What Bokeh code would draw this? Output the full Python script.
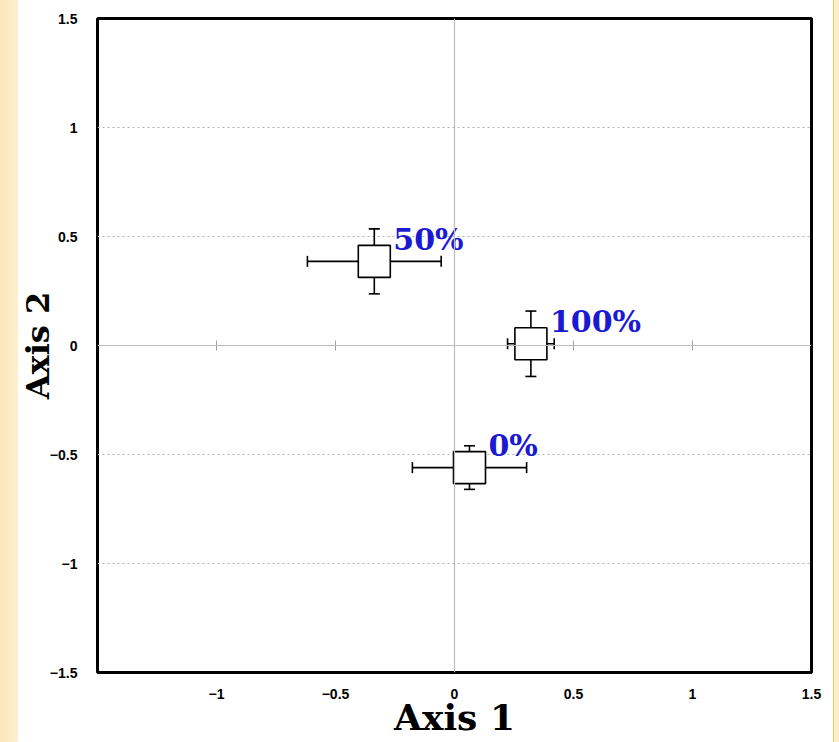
import numpy as np
from bokeh.plotting import figure
from bokeh.models import ColumnDataSource, FixedTicker, Span
from bokeh.embed import file_html
from bokeh.resources import INLINE
from bokeh.core.properties import value

# ---- data ----
groups = ["0%", "50%", "100%"]
axis1 = [0.063, -0.337, 0.321]
axis2 = [-0.560, 0.386, 0.008]
axis1_err = [0.240, 0.281, 0.098]
axis2_err = [0.100, 0.149, 0.150]

x_ticks = [-1, -0.5, 0, 0.5, 1, 1.5]
y_ticks = [-1.5, -1, -0.5, 0, 0.5, 1, 1.5]
grid_y = [-1, -0.5, 0.5, 1]
axis_tick_x = [-1, -0.5, 0.5, 1]

x = np.array(axis1)
y = np.array(axis2)
ex = np.array(axis1_err)
ey = np.array(axis2_err)

src = ColumnDataSource(dict(
    g=groups, x=x, y=y,
    xl=x - ex, xu=x + ex, yl=y - ey, yu=y + ey,
))

p = figure(
    width=839, height=742,
    x_range=(-1.5, 1.5), y_range=(-1.5, 1.5),
    output_backend="svg", toolbar_location=None,
    min_border_left=97, min_border_right=28,
    min_border_top=18, min_border_bottom=70,
    background_fill_color="white", border_fill_color=None,
    styles={"background": "linear-gradient(to right, #fbe6b8 0px, #fdf0d0 18px, "
                          "#ffffff 18px, #ffffff 833px, #e8c96a 833px, #e8c96a 834px, "
                          "#fdeec8 834px)"},
)
p.outline_line_color = "black"
p.outline_line_width = 3

p.xgrid.visible = False
p.ygrid.ticker = FixedTicker(ticks=grid_y)
p.ygrid.grid_line_color = "#b0b0b0"
p.ygrid.grid_line_dash = "2 3"
p.ygrid.grid_line_width = 1

for ax in (p.xaxis[0], p.yaxis[0]):
    ax.axis_line_color = None
    ax.major_tick_line_color = None
    ax.minor_tick_line_color = None
    ax.major_label_text_font = "Liberation Sans"
    ax.major_label_text_font_style = "bold"
    ax.major_label_text_font_size = "14px"
    ax.major_label_text_color = "black"
    ax.axis_label_text_font = "DejaVu Serif"
    ax.axis_label_text_font_style = "bold"
    ax.axis_label_text_color = "black"

p.xaxis.ticker = FixedTicker(ticks=x_ticks)
p.yaxis.ticker = FixedTicker(ticks=y_ticks)
p.xaxis.major_label_standoff = 10
p.yaxis.major_label_standoff = 14
p.xaxis.axis_label = "Axis 1"
p.yaxis.axis_label = "Axis 2"
p.xaxis.axis_label_text_font_size = "36px"
p.yaxis.axis_label_text_font_size = "32px"
p.xaxis.axis_label_standoff = -6
p.yaxis.axis_label_standoff = -10

# central axes
p.add_layout(Span(location=0, dimension="width", line_color="#bdbdbd", line_width=1.2))
p.add_layout(Span(location=0, dimension="height", line_color="#bdbdbd", line_width=1.2))
p.scatter(x=axis_tick_x, y=[0] * len(axis_tick_x), marker="dash", size=10,
          angle=np.pi / 2, line_color="#a0a0a0", line_width=1)

# error bars
p.segment(x0="xl", y0="y", x1="xu", y1="y", source=src, line_color="black", line_width=1.6)
p.segment(x0="x", y0="yl", x1="x", y1="yu", source=src, line_color="black", line_width=1.6)
p.scatter(x="xl", y="y", source=src, marker="dash", size=11, angle=np.pi / 2,
          line_color="black", line_width=1.6)
p.scatter(x="xu", y="y", source=src, marker="dash", size=11, angle=np.pi / 2,
          line_color="black", line_width=1.6)
p.scatter(x="x", y="yl", source=src, marker="dash", size=11,
          line_color="black", line_width=1.6)
p.scatter(x="x", y="yu", source=src, marker="dash", size=11,
          line_color="black", line_width=1.6)

# squares
p.scatter(x="x", y="y", source=src, marker="square", size=32,
          fill_color="white", line_color="black", line_width=1.6)

# labels
p.text(x="x", y="y", text="g", source=src, x_offset=19, y_offset=-22,
       text_font=value("DejaVu Serif"), text_font_style="bold",
       text_font_size="30px", text_color="#1a1ad2",
       text_baseline="alphabetic", text_align="left")

open("out.html", "w").write(file_html(p, INLINE))
